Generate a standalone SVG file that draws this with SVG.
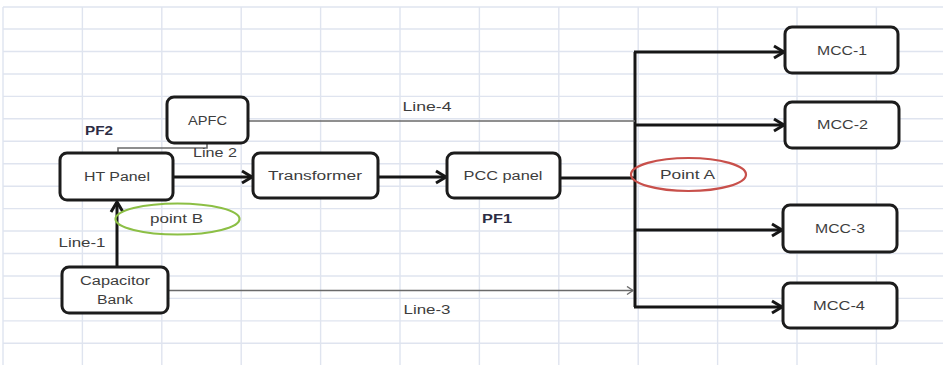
<svg xmlns="http://www.w3.org/2000/svg" width="943" height="365" viewBox="0 0 943 365">
  <defs>
    <style>
      .grid line { stroke: #dfe4ef; stroke-width: 1.4; }
      .box { fill: #ffffff; stroke: #1c1c1c; stroke-width: 3; }
      .lbl { font-family: "Liberation Sans", Arial, sans-serif; font-size: 12.5px; fill: #3d3d3d; text-anchor: middle; dominant-baseline: central; }
      .pf { font-family: "Liberation Sans", Arial, sans-serif; font-size: 12.5px; font-weight: bold; fill: #2c2c44; text-anchor: middle; dominant-baseline: central; }
      .bus { fill: none; stroke: #161616; stroke-width: 3; }
      .thin { fill: none; stroke: #6a6a6a; stroke-width: 1.6; }
    </style>
    <marker id="chev" markerUnits="userSpaceOnUse" markerWidth="16" markerHeight="16" viewBox="-12 -8 14 16" refX="0" refY="0" orient="auto">
      <path d="M-10,-6 L0,0 L-10,6" fill="none" stroke="#161616" stroke-width="3" stroke-linejoin="miter"/>
    </marker>
    <marker id="chevThin" markerUnits="userSpaceOnUse" markerWidth="10" markerHeight="10" viewBox="-8 -5 10 10" refX="0" refY="0" orient="auto">
      <path d="M-6,-4 L0,0 L-6,4" fill="none" stroke="#6a6a6a" stroke-width="1.4"/>
    </marker>
  </defs>

  <rect width="943" height="365" fill="#ffffff"/>

  <!-- sheet grid -->
  <g class="grid">
    <line x1="3" y1="7" x2="943" y2="7"/>
    <line x1="3" y1="29" x2="943" y2="29"/>
    <line x1="3" y1="51.5" x2="943" y2="51.5"/>
    <line x1="3" y1="74" x2="943" y2="74"/>
    <line x1="3" y1="96.4" x2="943" y2="96.4"/>
    <line x1="3" y1="118.8" x2="943" y2="118.8"/>
    <line x1="3" y1="141.3" x2="943" y2="141.3"/>
    <line x1="3" y1="163.7" x2="943" y2="163.7"/>
    <line x1="3" y1="186.2" x2="943" y2="186.2"/>
    <line x1="3" y1="208.6" x2="943" y2="208.6"/>
    <line x1="3" y1="231" x2="943" y2="231"/>
    <line x1="3" y1="253.5" x2="943" y2="253.5"/>
    <line x1="3" y1="276" x2="943" y2="276"/>
    <line x1="3" y1="298.4" x2="943" y2="298.4"/>
    <line x1="3" y1="320.9" x2="943" y2="320.9"/>
    <line x1="3" y1="343.3" x2="943" y2="343.3"/>
    <line x1="3" y1="7" x2="3" y2="365"/>
    <line x1="82.4" y1="7" x2="82.4" y2="365"/>
    <line x1="161.8" y1="7" x2="161.8" y2="365"/>
    <line x1="241.2" y1="7" x2="241.2" y2="365"/>
    <line x1="320.6" y1="7" x2="320.6" y2="365"/>
    <line x1="400" y1="7" x2="400" y2="365"/>
    <line x1="479.4" y1="7" x2="479.4" y2="365"/>
    <line x1="558.8" y1="7" x2="558.8" y2="365"/>
    <line x1="638.2" y1="7" x2="638.2" y2="365"/>
    <line x1="717.6" y1="7" x2="717.6" y2="365"/>
    <line x1="797" y1="7" x2="797" y2="365"/>
    <line x1="876.4" y1="7" x2="876.4" y2="365"/>
  </g>

  <!-- connectors -->
  <g id="connectors">
    <path class="bus" d="M173,177 H252" marker-end="url(#chev)"/>
    <path class="bus" d="M378,177 H446" marker-end="url(#chev)"/>
    <path class="bus" d="M560,178 H635"/>
    <path class="bus" d="M635,52 V307"/>
    <path class="bus" d="M634,52 H784" marker-end="url(#chev)"/>
    <path class="bus" d="M635,125 H784" marker-end="url(#chev)"/>
    <path class="bus" d="M635,230 H782" marker-end="url(#chev)"/>
    <path class="bus" d="M634,307 H782" marker-end="url(#chev)"/>
    <path class="bus" d="M117,267 V202" marker-end="url(#chev)"/>
    <path class="thin" d="M248,121 H635"/>
    <path class="thin" d="M168,290.5 H633" marker-end="url(#chevThin)"/>
    <path class="thin" d="M118,153 V148 H207 V143"/>
    <text class="lbl" x="427" y="107" textLength="49" lengthAdjust="spacingAndGlyphs">Line-4</text>
    <text class="lbl" x="427" y="310" textLength="47" lengthAdjust="spacingAndGlyphs">Line-3</text>
    <text class="lbl" x="215" y="153" textLength="44" lengthAdjust="spacingAndGlyphs">Line 2</text>
    <text class="lbl" x="82" y="243" textLength="47" lengthAdjust="spacingAndGlyphs">Line-1</text>
    <text class="pf" x="99" y="131" textLength="28" lengthAdjust="spacingAndGlyphs">PF2</text>
    <text class="pf" x="497" y="219" textLength="30" lengthAdjust="spacingAndGlyphs">PF1</text>
  </g>

  <!-- nodes -->
  <g id="apfc">
    <rect class="box" x="167" y="97" width="81" height="46" rx="7"/>
    <text class="lbl" x="207.5" y="121" textLength="39" lengthAdjust="spacingAndGlyphs">APFC</text>
  </g>
  <g id="ht-panel">
    <rect class="box" x="60" y="153" width="113" height="47" rx="7"/>
    <text class="lbl" x="117" y="177" textLength="66" lengthAdjust="spacingAndGlyphs">HT Panel</text>
  </g>
  <g id="transformer">
    <rect class="box" x="253" y="153" width="125" height="45" rx="7"/>
    <text class="lbl" x="315" y="176" textLength="94" lengthAdjust="spacingAndGlyphs">Transformer</text>
  </g>
  <g id="pcc-panel">
    <rect class="box" x="447" y="153" width="113" height="45" rx="7"/>
    <text class="lbl" x="503" y="176" textLength="79" lengthAdjust="spacingAndGlyphs">PCC panel</text>
  </g>
  <g id="capacitor-bank">
    <rect class="box" x="62" y="267" width="106" height="46" rx="7"/>
    <text class="lbl" x="115" y="281" textLength="70" lengthAdjust="spacingAndGlyphs">Capacitor</text>
    <text class="lbl" x="115" y="300" textLength="36" lengthAdjust="spacingAndGlyphs">Bank</text>
  </g>
  <g id="mcc-1">
    <rect class="box" x="785" y="27" width="113" height="46" rx="7"/>
    <text class="lbl" x="842" y="51" textLength="50" lengthAdjust="spacingAndGlyphs">MCC-1</text>
  </g>
  <g id="mcc-2">
    <rect class="box" x="785" y="102" width="114" height="46" rx="7"/>
    <text class="lbl" x="842.5" y="125" textLength="51" lengthAdjust="spacingAndGlyphs">MCC-2</text>
  </g>
  <g id="mcc-3">
    <rect class="box" x="783" y="205" width="114" height="47" rx="7"/>
    <text class="lbl" x="840" y="229" textLength="50" lengthAdjust="spacingAndGlyphs">MCC-3</text>
  </g>
  <g id="mcc-4">
    <rect class="box" x="783" y="283" width="114" height="45" rx="7"/>
    <text class="lbl" x="839" y="306" textLength="52" lengthAdjust="spacingAndGlyphs">MCC-4</text>
  </g>
  <g id="point-a">
    <ellipse cx="688.5" cy="174.5" rx="57.5" ry="16.5" fill="none" stroke="#c8504b" stroke-width="2.2"/>
    <text class="lbl" x="687.5" y="175" textLength="55" lengthAdjust="spacingAndGlyphs">Point A</text>
  </g>
  <g id="point-b">
    <ellipse cx="177.5" cy="219" rx="62" ry="15.5" fill="none" stroke="#8cbf45" stroke-width="2.2"/>
    <text class="lbl" x="176.5" y="219" textLength="53" lengthAdjust="spacingAndGlyphs">point B</text>
  </g>
</svg>
